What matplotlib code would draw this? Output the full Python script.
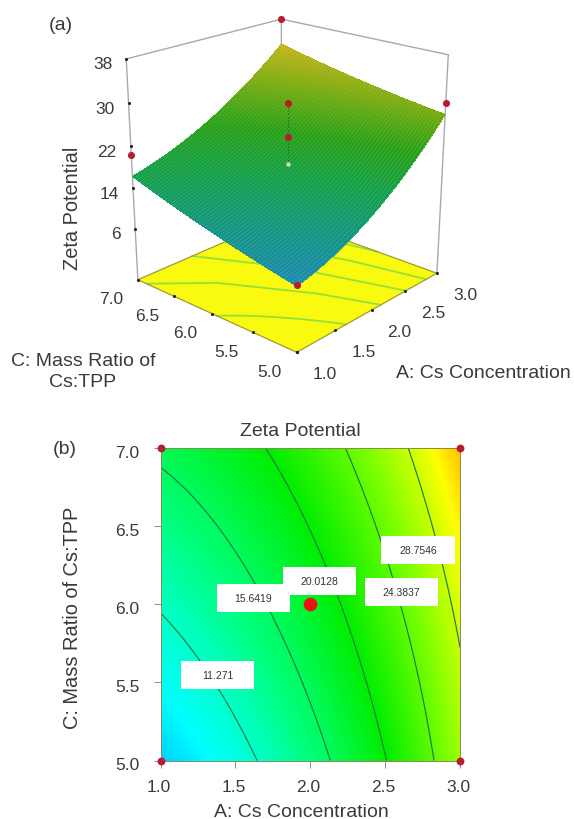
import numpy as np
import matplotlib
matplotlib.use("Agg")
import matplotlib.pyplot as plt
from matplotlib.colors import LinearSegmentedColormap
from matplotlib.patches import Rectangle
from matplotlib.transforms import ScaledTranslation
from mpl_toolkits.mplot3d import proj3d

# ---- data ----
A_grid = [1.0, 1.5, 2.0, 2.5, 3.0]
C_grid = [5.0, 5.5, 6.0, 6.5, 7.0]
zeta_c50 = [8.0, 10.1, 14.3, 20.0, 27.0]
zeta_c55 = [9.3, 12.0, 16.3, 21.6, 28.0]
zeta_c60 = [11.7, 13.7, 18.2, 23.2, 29.7]
zeta_c65 = [13.9, 16.7, 20.1, 25.0, 31.0]
zeta_c70 = [16.2, 18.6, 22.3, 27.1, 33.0]
contour_levels = [11.271, 15.6419, 20.0128, 24.3837, 28.7546]
contour_texts = ["11.271", "15.6419", "20.0128", "24.3837", "28.7546"]
label_A = [1.38, 1.62, 2.06, 2.61, 2.72]
label_C = [5.55, 6.04, 6.15, 6.08, 6.35]
design_A = [1.0, 1.0, 3.0, 3.0]
design_C = [5.0, 7.0, 5.0, 7.0]
design_zeta = [8.0, 20.3, 29.2, 38.0]
center_zeta = [29.6, 23.2]
center_surface = 18.2
z_ticks = [6, 14, 22, 30, 38]
A_ticks = [1.0, 1.5, 2.0, 2.5, 3.0]
C_ticks = [5.0, 5.5, 6.0, 6.5, 7.0]
z_floor = -4.3

plt.rcParams['font.family'] = ['Liberation Sans', 'DejaVu Sans']
W, H = 574, 820
fig = plt.figure(figsize=(W/100, H/100), dpi=100)
TXT = '#3a3a3a'

def px_text(x, y, s, **kw):
    kw.setdefault('color', TXT)
    kw.setdefault('ha', 'center')
    kw.setdefault('va', 'center')
    fig.text(x/W, 1-y/H, s, **kw)

# smooth quadratic response surface through the values read on the 5 x 5 grid
Z_grid = np.array([zeta_c50, zeta_c55, zeta_c60, zeta_c65, zeta_c70])
a_f = np.linspace(1, 3, 121)
c_f = np.linspace(5, 7, 121)
Va = np.vander(A_grid, 3); Vc = np.vander(C_grid, 3)
Z_f = np.vander(c_f, 3) @ np.linalg.pinv(Vc) @ Z_grid @ np.linalg.pinv(Va).T @ np.vander(a_f, 3).T
AA, CC = np.meshgrid(a_f, c_f)

# ---- panel (a) axes first, so panel (b) sits on top ----
ax = fig.add_axes([-6/W, 1-449/H, 574/W, 540/H], projection='3d', computed_zorder=False)

# ---- panel (b) ----
flat_cmap = LinearSegmentedColormap.from_list('de', [
    (0.00, '#00a8ff'), (0.10, '#00ffff'), (0.28, '#00ff80'), (0.50, '#00ee00'),
    (0.72, '#80ff00'), (0.90, '#ffff00'), (1.00, '#ffb000')])
axb = fig.add_axes([160.5/W, 1-761.5/H, 299.5/W, 312.5/H])
axb.pcolormesh(AA, CC, Z_f, cmap=flat_cmap, vmin=6.5, vmax=33.5, shading='gouraud', zorder=1)
cs = axb.contour(AA, CC, Z_f, levels=contour_levels, colors='#1d7a45', linewidths=0.85, zorder=2)
for a, c, s in zip(label_A, label_C, contour_texts):
    axb.add_patch(Rectangle((a-0.245, c-0.09), 0.49, 0.18, fc='white', ec='none', zorder=3))
    axb.text(a, c, s, fontsize=7.5, color='#333333', ha='center', va='center', zorder=4)
axb.scatter(design_A, design_C, s=32, color='#b81c30', zorder=6, clip_on=False, linewidths=0)
axb.scatter([2.0], [6.0], s=95, color='#ee1111', zorder=6, linewidths=0)
axb.set_xlim(1, 3)
axb.set_ylim(5, 7)
axb.set_xticks(A_ticks)
axb.set_yticks(C_ticks)
axb.set_xticklabels([f'{t:.1f}' for t in A_ticks])
axb.set_yticklabels([f'{t:.1f}' for t in C_ticks])
axb.tick_params(labelsize=12.5, colors='#909090', labelcolor=TXT, length=5, width=0.7)
axb.tick_params(axis='x', pad=8)
axb.tick_params(axis='y', pad=10)
shift_x = ScaledTranslation(-2/100, 0, fig.dpi_scale_trans)
shift_y = ScaledTranslation(0, -3/100, fig.dpi_scale_trans)
for lbl in axb.get_xticklabels():
    lbl.set_transform(lbl.get_transform() + shift_x)
for lbl in axb.get_yticklabels():
    lbl.set_transform(lbl.get_transform() + shift_y)
for s in axb.spines.values():
    s.set_color('#8a8a50')
    s.set_linewidth(0.7)
axb.set_xlabel('A: Cs Concentration', fontsize=14, color=TXT, va='center')
axb.xaxis.set_label_coords((301-160.5)/299.5, -(813-761.5)/312.5)
axb.set_ylabel('C: Mass Ratio of Cs:TPP', fontsize=14.4, color=TXT, va='center')
axb.yaxis.set_label_coords((72-160.5)/299.5, 1-(618-449)/312.5)
axb.set_title('Zeta Potential', fontsize=14, color=TXT, pad=9, x=0.466)

# ---- panel (a) ----
surf_cmap = LinearSegmentedColormap.from_list('surf', [
    (0.00, '#1e88bc'), (0.15, '#12948a'), (0.35, '#12a04c'), (0.55, '#26a018'),
    (0.78, '#7cac10'), (1.00, '#ccb41c')])
ax.patch.set_alpha(0)
ax.set_proj_type('persp', focal_length=0.39)
ax.view_init(elev=21, azim=-137.8)
ax.set_box_aspect((1, 1, 1.07), zoom=0.70)
ax.set_xlim(1, 3)
ax.set_ylim(5, 7)
ax.set_zlim(z_floor, 38)

ax.plot_surface(np.array([[1, 3], [1, 3]]), np.array([[5, 5], [7, 7]]), np.full((2, 2), z_floor),
                color='#fafa10', shade=False, zorder=1, linewidth=0)
for path in cs.get_paths():
    for v in path.to_polygons(closed_only=False):
        ax.plot(v[:, 0], v[:, 1], z_floor, color='#96e03a', lw=1.3, zorder=2)
ax.plot([1, 3, 3, 1, 1], [5, 5, 7, 7, 5], z_floor, color='#a09a30', lw=0.9, zorder=3)

# box lines
gray = '#a8a8b0'
ax.plot([1, 1], [7, 7], [z_floor, 38], color=gray, lw=1, zorder=0.5)
ax.plot([3, 3], [5, 5], [z_floor, 38], color=gray, lw=1, zorder=0.5)
ax.plot([3, 3], [7, 7], [z_floor, 38], color=gray, lw=1, zorder=0.5)
ax.plot([1, 3, 3], [7, 7, 5], [38, 38, 38], color=gray, lw=1, zorder=0.5)

fc = surf_cmap((Z_f-7)/(33-7))
ax.plot_surface(AA, CC, Z_f, facecolors=fc, shade=False, rstride=2, cstride=2,
                linewidth=0, antialiased=False, zorder=4)
ax.plot_wireframe(AA, CC, Z_f, rstride=2, cstride=0, color='#d8e8a0', lw=0.3, alpha=0.35, zorder=4.5)

ax.plot([2, 2], [6, 6], [center_surface, max(center_zeta)], color='#1c6a30', lw=0.9, ls=':', zorder=5)
ax.scatter([2, 2], [6, 6], center_zeta, s=26, color='#b81c30', depthshade=False, zorder=6, linewidths=0)
ax.scatter([2], [6], [center_surface], s=10, color='#d8d8d0', depthshade=False, zorder=6, linewidths=0)
ax.scatter(design_A, design_C, design_zeta, s=26, color='#b81c30', depthshade=False, zorder=6, linewidths=0)

ax.set_axis_off()
# ticks and their labels
ax.scatter([1]*5, [7]*5, z_ticks, s=5, color='#222222', depthshade=False, zorder=3, linewidths=0)
ax.scatter(A_ticks, [5]*5, [z_floor]*5, s=5, color='#222222', depthshade=False, zorder=3, linewidths=0)
ax.scatter([1]*5, C_ticks, [z_floor]*5, s=5, color='#222222', depthshade=False, zorder=3, linewidths=0)

ax.apply_aspect()
M = ax.get_proj()
def tick_label(x, y, z, s, dx, dy, ha='center'):
    px, py, _ = proj3d.proj_transform(x, y, z, M)
    ax.annotate(s, xy=(px, py), xytext=(dx, dy), textcoords='offset pixels', fontsize=12.5,
                color=TXT, ha=ha, va='center', annotation_clip=False)
for z in z_ticks:
    tick_label(1, 7, z, str(z), -14, -5, ha='right')
for a in A_ticks:
    tick_label(a, 5, z_floor, f'{a:.1f}', 28, -21)
for c in C_ticks:
    tick_label(1, c, z_floor, f'{c:.1f}', -27, -19)

px_text(72, 208, 'Zeta Potential', fontsize=14.4, rotation=90)
px_text(483, 374, 'A: Cs Concentration', fontsize=14)
px_text(83, 372, 'C: Mass Ratio of\nCs:TPP', fontsize=14, linespacing=1.3)
px_text(61, 26, '(a)', fontsize=14)
px_text(65, 449, '(b)', fontsize=14)

fig.savefig('out.png', dpi=100)
